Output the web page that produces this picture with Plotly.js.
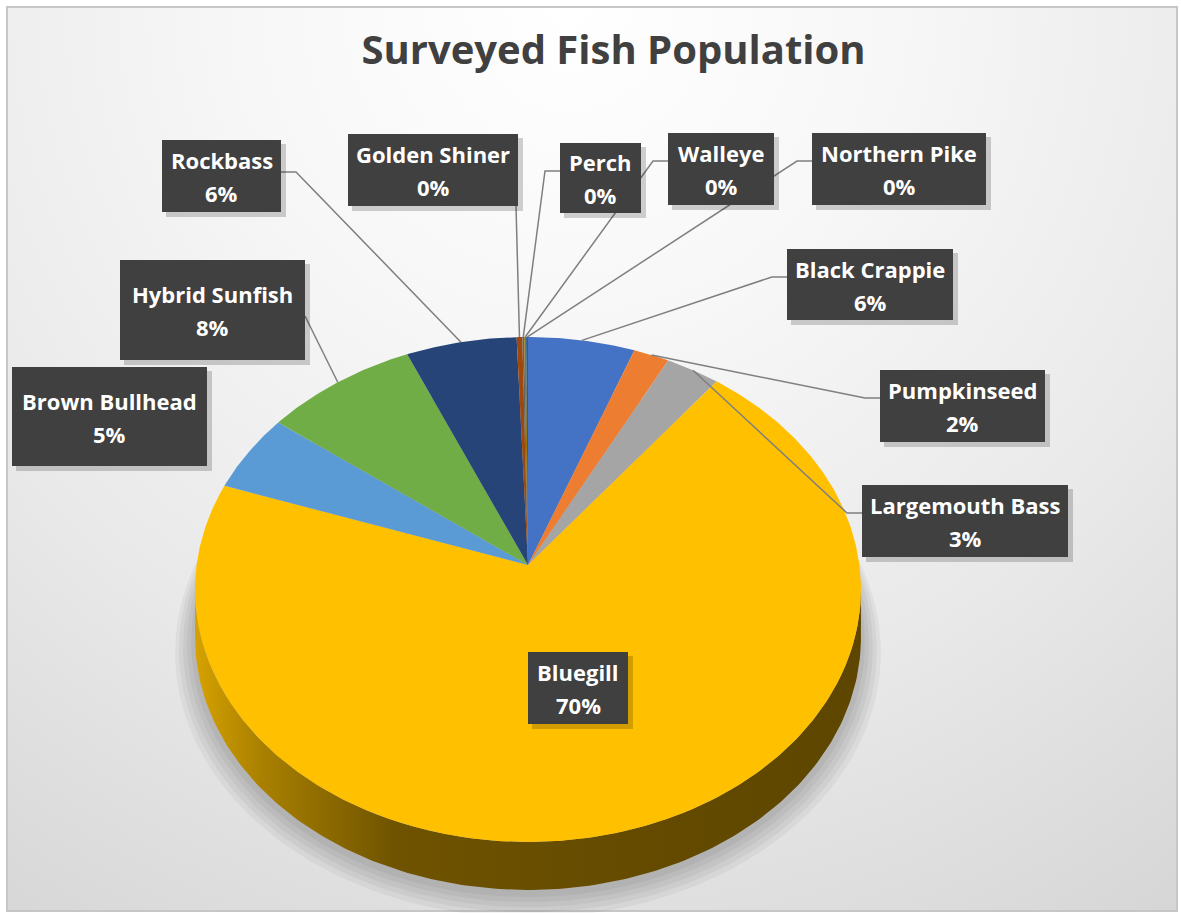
<!DOCTYPE html>
<html><head><meta charset="utf-8">
<script src="https://cdn.plot.ly/plotly-3.0.1.min.js"></script>
<style>
html,body{margin:0;padding:0;background:#ffffff;}
#frame{position:absolute;left:6px;top:6px;width:1172px;height:906px;box-sizing:border-box;border:2px solid #c6c6c6;
 background:radial-gradient(circle farthest-corner at 48% 0%, #ffffff 0%, #f7f7f7 30%, #e9e9e9 65%, #d6d6d6 100%);}
#chart{position:absolute;left:0;top:0;width:1181px;height:913px;}
</style></head>
<body><div id="frame"></div><div id="chart"></div>
<script>
// ---- data (clockwise from 12 o'clock) ----
const fishNames = ["Black Crappie","Pumpkinseed","Largemouth Bass","Bluegill","Brown Bullhead","Hybrid Sunfish","Rockbass","Golden Shiner","Perch","Walleye","Northern Pike"];
const fishCounts = [57, 19, 29, 698, 50, 82, 59, 3, 1, 1, 1];
const sliceColors = ["#4472C4","#ED7D31","#A5A5A5","#FFC000","#5B9BD5","#70AD47","#264478","#9E480E","#636363","#997300","#255E91"];
const chartTitle = "Surveyed Fish Population";

// ---- geometry / style (layout only) ----
const W = 1181, H = 913;
const CX = 528, APEX_Y = 565, RX = 331.4, ALPHA = 195.3, GAMMA = -0.097, DEPTH = 48;
// label boxes: center x, center y, width, height, leader attach mode
const labelBoxes = {
  "Black Crappie":   {cx:870,   cy:284.5, w:166, h:71, side:"left"},
  "Pumpkinseed":     {cx:962.5, cy:406,   w:165, h:72, side:"left"},
  "Largemouth Bass": {cx:965,   cy:521,   w:206, h:72, side:"left"},
  "Bluegill":        {cx:578,   cy:688,   w:100, h:72, side:"none"},
  "Brown Bullhead":  {cx:109.5, cy:416.5, w:195, h:99, side:"none"},
  "Hybrid Sunfish":  {cx:212.5, cy:310,   w:185, h:100, side:"rightdirect"},
  "Rockbass":        {cx:221.5, cy:176,   w:119, h:72, side:"right"},
  "Golden Shiner":   {cx:433,   cy:170,   w:170, h:72, side:"bottom"},
  "Perch":           {cx:600.5, cy:178,   w:81,  h:70, side:"left"},
  "Walleye":         {cx:721,   cy:169,   w:106, h:72, side:"left"},
  "Northern Pike":   {cx:899,   cy:169,   w:174, h:72, side:"left"}
};

function rim(theta, dy){
  const u = Math.sin(theta), v = -Math.cos(theta);
  const d = 1 + GAMMA*v;
  return [CX + RX*u/d, (ALPHA*v + APEX_Y)/d + (dy||0)];
}
const deg = Math.PI/180;
const total = fishCounts.reduce((a,b)=>a+b,0);

const traces = [];

// soft shadow under the pie
for (let k = 0; k < 5; k++) {
  const sx = 1.0 + 0.012*(k+1), ex = [], ey = [];
  for (let t = 0; t <= 360; t += 2) {
    const p = rim(t*deg, DEPTH + 4 + 2*k);
    ex.push(CX + (p[0]-CX)*sx); ey.push(APEX_Y + 25 + (p[1]-APEX_Y-25)*(1+0.01*(k+1)));
  }
  traces.push({x:ex, y:ey, type:"scatter", mode:"lines", fill:"toself", line:{width:0}, fillcolor:"rgba(0,0,0,0.045)", hoverinfo:"skip", showlegend:false});
}

// side wall (front, visible part)
{
  const sx = [], sy = [];
  const t0 = 95.6, t1 = 264.4;
  for (let t = t0; t <= t1 + 0.001; t += 1) { const p = rim(t*deg, 0); sx.push(p[0]); sy.push(p[1]); }
  for (let t = t1; t >= t0 - 0.001; t -= 1) { const p = rim(t*deg, DEPTH); sx.push(p[0]); sy.push(p[1]); }
  traces.push({x:sx, y:sy, type:"scatter", mode:"lines", fill:"toself", line:{width:0},
    fillgradient:{type:"horizontal", colorscale:[[0,"#d6a200"],[0.1,"#a98000"],[0.3,"#6f5300"],[0.6,"#664c00"],[1,"#5e4600"]]},
    hoverinfo:"skip", showlegend:false});
}

// top-face slices
let cum = 0;
const mids = [];
fishCounts.forEach((c, i) => {
  const a0 = cum/total*360, a1 = (cum + c)/total*360;
  cum += c;
  mids.push((a0 + a1)/2);
  const px = [CX], py = [APEX_Y];
  const steps = Math.max(2, Math.ceil((a1 - a0)/0.5));
  for (let s = 0; s <= steps; s++) {
    const p = rim((a0 + (a1 - a0)*s/steps)*deg, 0); px.push(p[0]); py.push(p[1]);
  }
  px.push(CX); py.push(APEX_Y);
  traces.push({x:px, y:py, type:"scatter", mode:"lines", fill:"toself", line:{width:0},
    fillcolor:sliceColors[i], name:fishNames[i], hoverinfo:"skip", showlegend:false});
});

// leader lines
fishNames.forEach((n, i) => {
  const b = labelBoxes[n];
  if (b.side === "none") return;
  const anc = rim(mids[i]*deg, 0);
  const top = b.cy - b.h/2;
  let xs, ys;
  if (b.side === "left") {
    const ax = b.cx - b.w/2, ay = top + 28;
    xs = [ax, ax - 15, anc[0]]; ys = [ay, ay, anc[1]];
  } else if (b.side === "right") {
    const ax = b.cx + b.w/2, ay = top + 32;
    xs = [ax, ax + 15, anc[0]]; ys = [ay, ay, anc[1]];
  } else if (b.side === "rightdirect") {
    const ax = b.cx + b.w/2, ay = b.cy + 6;
    xs = [ax, anc[0]]; ys = [ay, anc[1]];
  } else {
    const ax = b.cx + b.w/2 - 2, ay = b.cy + b.h/2;
    xs = [ax, anc[0]]; ys = [ay, anc[1]];
  }
  traces.push({x:xs, y:ys, type:"scatter", mode:"lines", line:{color:"#7f7f7f", width:1.5}, hoverinfo:"skip", showlegend:false});
});

// label boxes (shadow + box as shapes, two text lines as annotations)
const shapes = [];
const annotations = [];
const labelFont = {family:"Open Sans", size:22, color:"#ffffff", weight:700};
fishNames.forEach((n, i) => {
  const b = labelBoxes[n];
  const pct = Math.round(fishCounts[i]/total*100) + "%";
  shapes.push({type:"rect", xref:"x", yref:"y", layer:"above",
    x0:b.cx - b.w/2 + 4, x1:b.cx + b.w/2 + 5, y0:b.cy - b.h/2 + 4, y1:b.cy + b.h/2 + 5,
    fillcolor:"rgba(0,0,0,0.18)", line:{width:0}});
  shapes.push({type:"rect", xref:"x", yref:"y", layer:"above",
    x0:b.cx - b.w/2, x1:b.cx + b.w/2, y0:b.cy - b.h/2, y1:b.cy + b.h/2,
    fillcolor:"#404040", line:{width:0}});
  annotations.push({x:b.cx, y:b.cy - 16, xref:"x", yref:"y", text:n, showarrow:false,
    xanchor:"center", yanchor:"middle", font:labelFont});
  annotations.push({x:b.cx, y:b.cy + 17, xref:"x", yref:"y", text:pct, showarrow:false,
    xanchor:"center", yanchor:"middle", font:labelFont});
});

const layout = {
  width: W, height: H,
  margin:{l:0, r:0, t:0, b:0},
  paper_bgcolor:"rgba(0,0,0,0)", plot_bgcolor:"rgba(0,0,0,0)",
  title:{text:chartTitle, x:613.5/W, xanchor:"center", xref:"paper", y:1 - 50/H, yref:"container", yanchor:"middle",
    font:{family:"Open Sans", size:40, color:"#404040", weight:700}},
  xaxis:{range:[0, W], visible:false, fixedrange:true},
  yaxis:{range:[H, 0], visible:false, fixedrange:true},
  shapes: shapes,
  annotations: annotations,
  showlegend:false,
  hovermode:false
};
Plotly.newPlot("chart", traces, layout, {displayModeBar:false, staticPlot:true});
</script>
</body></html>
